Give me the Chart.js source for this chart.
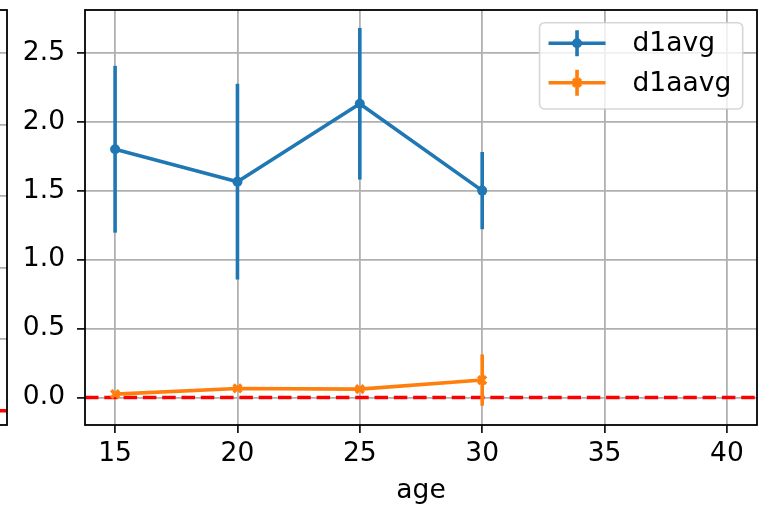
<!DOCTYPE html>
<html>
<head>
<meta charset="utf-8">
<script src="https://cdn.jsdelivr.net/npm/chart.js@4.4.1/dist/chart.umd.min.js"></script>
<style>
  html, body { margin: 0; padding: 0; background: #fff; }
  #wrap { position: relative; width: 779px; height: 507px; overflow: hidden; }
  #leftChart { position: absolute; left: -292px; top: 0; }
  #myChart { position: absolute; left: 0; top: 0; }
</style>
</head>
<body>
<div id="wrap">
  <canvas id="leftChart" width="300" height="507"></canvas>
  <canvas id="myChart" width="779" height="507"></canvas>
</div>
<script>
// data
var ages = [15, 20, 25, 30];
var d1avg = [1.80, 1.565, 2.13, 1.50];
var d1avgErr = [0.605, 0.71, 0.55, 0.28];
var d1aavg = [0.024, 0.065, 0.06, 0.126];
var d1aavgErr = [0.01, 0.01, 0.01, 0.186];
var xTicks = [15, 20, 25, 30, 35, 40];
var yTicks = [0, 0.5, 1, 1.5, 2, 2.5];
var xLimits = [13.77, 41.23];
var yLimits = [-0.2, 2.81];
var refLevel = 0;
// neighbour panel (only its right edge is visible)
var leftYTicks = [0, 0.5, 1, 1.5, 2, 2.5];
var leftYLimits = [-0.1, 2.8];

var BLUE = '#1f77b4', ORANGE = '#ff7f0e', RED = '#ff0000', GRID = '#b0b0b0';
var FONT_SIZE = 26.5;
Chart.defaults.font.family = '"DejaVu Sans", sans-serif';
Chart.defaults.font.size = FONT_SIZE;
Chart.defaults.color = '#000';

function errBars(means, errs){
    return ages.map(function(x, i){ return {x: x, y: [means[i] - errs[i], means[i] + errs[i]]}; });
}
function points(means){
    return ages.map(function(x, i){ return {x: x, y: means[i]}; });
}
function noPad(s){
    s.paddingLeft = 0; s.paddingRight = 0; s.paddingTop = 0; s.paddingBottom = 0;
}

var frame = {
    id: 'frame',
    afterDatasetsDraw: function(chart){
        var a = chart.chartArea, ctx = chart.ctx;
        ctx.save();
        ctx.strokeStyle = '#000';
        ctx.lineWidth = 1.8;
        ctx.strokeRect(a.left, a.top, a.right - a.left, a.bottom - a.top);
        ctx.restore();
    }
};

var legendBox = {
    id: 'legendBox',
    afterDraw: function(chart){
        var ctx = chart.ctx, a = chart.chartArea;
        var items = chart.data.datasets.filter(function(d){ return d.inLegend; });
        ctx.save();
        ctx.font = FONT_SIZE + 'px "DejaVu Sans"';
        var textW = 0;
        items.forEach(function(d){ textW = Math.max(textW, ctx.measureText(d.label).width); });
        var padL = 9, handle = 57, gap = 27, padR = 11.5, rowH = 39.4;
        var w = padL + handle + gap + textW + padR, h = items.length * rowH + 7.5;
        var x0 = a.right - 14.3 - w, y0 = a.top + 12.7;
        ctx.beginPath();
        ctx.roundRect(x0, y0, w, h, 5);
        ctx.fillStyle = 'rgba(255,255,255,0.8)';
        ctx.fill();
        ctx.strokeStyle = 'rgba(204,204,204,0.8)';
        ctx.lineWidth = 1.6;
        ctx.stroke();
        items.forEach(function(d, i){
            var cy = y0 + 20.6 + i * rowH, hx = x0 + padL, mx = hx + handle / 2;
            ctx.strokeStyle = d.borderColor;
            ctx.fillStyle = d.borderColor;
            ctx.lineWidth = 3.6;
            ctx.beginPath();
            ctx.moveTo(hx, cy); ctx.lineTo(hx + handle, cy);
            ctx.moveTo(mx, cy - 13); ctx.lineTo(mx, cy + 13);
            ctx.stroke();
            Chart.helpers.drawPoint(ctx, {pointStyle: d.pointStyle, radius: d.pointRadius, borderWidth: d.pointBorderWidth, rotation: 0}, mx, cy);
            ctx.fillStyle = '#000';
            ctx.textBaseline = 'middle';
            ctx.textAlign = 'left';
            ctx.fillText(d.label, hx + handle + gap, cy + 1);
        });
        ctx.restore();
    }
};

var ctx = document.getElementById('myChart').getContext('2d');
var chart = new Chart(ctx, {
    type: 'line',
    data: {
        datasets: [
            {
                label: 'd1avg', inLegend: true, data: points(d1avg),
                borderColor: BLUE, backgroundColor: BLUE, borderWidth: 3.6,
                borderJoinStyle: 'round', pointStyle: 'circle', pointRadius: 5,
                pointBorderWidth: 0, pointBackgroundColor: BLUE, order: 3
            },
            {
                type: 'bar', data: errBars(d1avg, d1avgErr), backgroundColor: BLUE,
                borderWidth: 0, grouped: false, maxBarThickness: 3.6, order: 3
            },
            {
                label: 'd1aavg', inLegend: true, data: points(d1aavg),
                borderColor: ORANGE, backgroundColor: ORANGE, borderWidth: 3.6,
                borderJoinStyle: 'round', pointStyle: 'crossRot', pointRadius: 5.5,
                pointBorderWidth: 3.5, pointBorderColor: ORANGE, order: 1
            },
            {
                type: 'bar', data: errBars(d1aavg, d1aavgErr), backgroundColor: ORANGE,
                borderWidth: 0, grouped: false, maxBarThickness: 3.6, order: 1
            },
            {
                data: [{x: xLimits[0], y: refLevel}, {x: xLimits[1], y: refLevel}],
                borderColor: RED, borderWidth: 3.6, borderDash: [13.5, 5.8],
                pointRadius: 0, order: 2
            }
        ]
    },
    options: {
        responsive: false,
        animation: false,
        layout: {padding: {left: 0, right: 22, top: 10, bottom: 0}},
        plugins: {legend: {display: false}, tooltip: {enabled: false}},
        scales: {
            x: {
                type: 'linear', min: xLimits[0], max: xLimits[1], offset: false,
                afterBuildTicks: function(s){ s.ticks = xTicks.map(function(v){ return {value: v}; }); },
                afterFit: function(s){ s.height = 82; noPad(s); },
                grid: {color: GRID, lineWidth: 1.8, offset: false, tickColor: '#000', tickLength: 8, tickWidth: 1.6},
                border: {display: false},
                ticks: {padding: 5, maxRotation: 0, callback: function(v){ return String(v); }},
                title: {display: true, text: 'age', padding: {top: 0, bottom: 0}}
            },
            y: {
                type: 'linear', min: yLimits[0], max: yLimits[1],
                afterBuildTicks: function(s){ s.ticks = yTicks.map(function(v){ return {value: v}; }); },
                afterFit: function(s){ s.width = 85; noPad(s); },
                grid: {color: GRID, lineWidth: 1.8, tickColor: '#000', tickLength: 8, tickWidth: 1.6},
                border: {display: false},
                ticks: {padding: 12, callback: function(v){ return v.toFixed(1); }}
            }
        }
    },
    plugins: [frame, legendBox]
});

var leftChart = new Chart(document.getElementById('leftChart').getContext('2d'), {
    type: 'line',
    data: {
        datasets: [{
            data: [{x: 0, y: refLevel}, {x: 1, y: refLevel}],
            borderColor: RED, borderWidth: 3.6, borderDash: [13.5, 5.8], pointRadius: 0
        }]
    },
    options: {
        responsive: false,
        animation: false,
        layout: {padding: {left: 0, right: 1, top: 10, bottom: 82}},
        plugins: {legend: {display: false}, tooltip: {enabled: false}},
        scales: {
            x: {type: 'linear', min: 0, max: 1, display: false},
            y: {
                type: 'linear', min: leftYLimits[0], max: leftYLimits[1],
                afterBuildTicks: function(s){ s.ticks = leftYTicks.map(function(v){ return {value: v}; }); },
                afterFit: function(s){ s.width = 0; noPad(s); },
                grid: {color: GRID, lineWidth: 1.8, drawTicks: false},
                border: {display: false},
                ticks: {display: false}
            }
        }
    },
    plugins: [frame]
});
</script>
</body>
</html>
